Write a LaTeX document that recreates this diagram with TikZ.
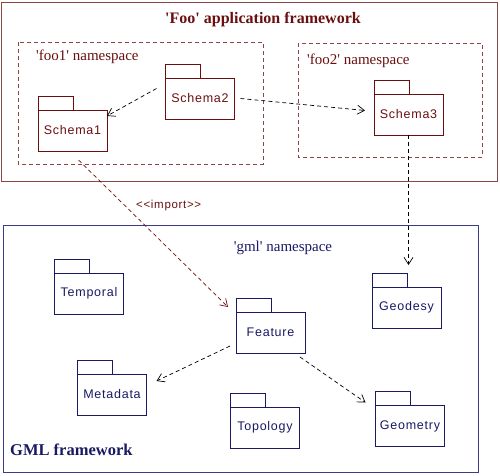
\documentclass[tikz,border=0pt]{standalone}
\usepackage{fontspec}
\setmainfont{Liberation Serif}
\newfontfamily\pkgfont[LetterSpace=6]{Liberation Sans}
\usetikzlibrary{arrows.meta}
\definecolor{foored}{RGB}{105,15,15}
\definecolor{fooline}{RGB}{140,70,70}
\definecolor{gmlblue}{RGB}{25,25,100}
\definecolor{gmlline}{RGB}{60,60,140}
\tikzset{
  pkg/.style={draw=#1, text=#1, line width=0.9pt, minimum width=69pt, minimum height=41pt,
    inner sep=0pt, outer sep=0pt, font=\pkgfont\fontsize{12.5}{14}\selectfont,
    label distance=0pt, label={[tabbox, draw=#1]north west:}},
  tabbox/.style={anchor=south west, line width=0.9pt, minimum width=35pt, minimum height=14pt,
    inner sep=0pt, outer sep=0pt},
  dep/.style={dash pattern=on 4pt off 3pt, line width=0.7pt, -{Straight Barb[length=7pt,width=9pt]}},
}
\begin{document}
\begin{tikzpicture}[x=1pt, y=-1pt]
\useasboundingbox (0,0) rectangle (500,475);
% frames
\draw[fooline, line width=0.9pt] (1,2) rectangle (497,181);
\draw[fooline, line width=0.8pt, dash pattern=on 4pt off 3pt] (18,42) rectangle (263,164);
\draw[fooline, line width=0.8pt, dash pattern=on 4pt off 3pt] (298,43) rectangle (482,157);
\draw[gmlline, line width=0.9pt] (3,225) rectangle (478,472);
% titles
\node[foored, font=\bfseries\fontsize{16}{18}\selectfont] (footitle) at (263,20) {\textquotesingle Foo\textquotesingle\ application framework};
\node[foored, anchor=west, inner sep=0pt, font=\fontsize{15}{17}\selectfont] (foo1ns) at (36,57) {\textquotesingle foo1\textquotesingle\ namespace};
\node[foored, anchor=west, inner sep=0pt, font=\fontsize{15}{17}\selectfont] (foo2ns) at (307,61) {\textquotesingle foo2\textquotesingle\ namespace};
\node[gmlblue, inner sep=0pt, font=\fontsize{15}{17}\selectfont] (gmlns) at (283,248) {\textquotesingle gml\textquotesingle\ namespace};
\node[gmlblue, anchor=west, inner sep=0pt, font=\bfseries\fontsize{16.5}{18}\selectfont] (gmltitle) at (10,450) {GML framework};
% packages
\node[pkg=foored] (schema1) at (72.5,130.5) {Schema1};
\node[pkg=foored] (schema2) at (200,98.5) {Schema2};
\node[pkg=foored] (schema3) at (408.5,114.5) {Schema3};
\node[pkg=gmlblue] (temporal) at (89,293.5) {Temporal};
\node[pkg=gmlblue] (feature) at (270.5,332.5) {Feature};
\node[pkg=gmlblue] (geodesy) at (406.5,307.5) {Geodesy};
\node[pkg=gmlblue] (metadata) at (112,394.5) {Metadata};
\node[pkg=gmlblue] (topology) at (265,427.5) {Topology};
\node[pkg=gmlblue] (geometry) at (410,426) {Geometry};
% dependencies
\draw[dep] ([shift={(-9pt,10pt)}]schema2.west) -- ([yshift=-6pt]schema1.north east);
\draw[dep] ([xshift=6pt]schema2.east) -- ([shift={(-9pt,4pt)}]schema3.west);
\draw[dep, foored] ([shift={(6pt,-9pt)}]schema1.south) -- ([shift={(-8pt,5pt)}]feature.north west)
  node[pos=0.31, anchor=west, xshift=11pt, inner sep=0pt, font=\pkgfont\fontsize{11.5}{13}\selectfont] (importlbl) {<<import>>};
\draw[dep] (schema3.south) -- ([yshift=22pt]schema3.south |- geodesy.north);
\draw[dep] ([shift={(-6pt,-13.5pt)}]feature.west) -- ([shift={(10pt,-7pt)}]metadata.north east);
\draw[dep] ([shift={(-5pt,-4pt)}]feature.south east) -- ([shift={(-10pt,3pt)}]geometry.north west);
\end{tikzpicture}
\end{document}
